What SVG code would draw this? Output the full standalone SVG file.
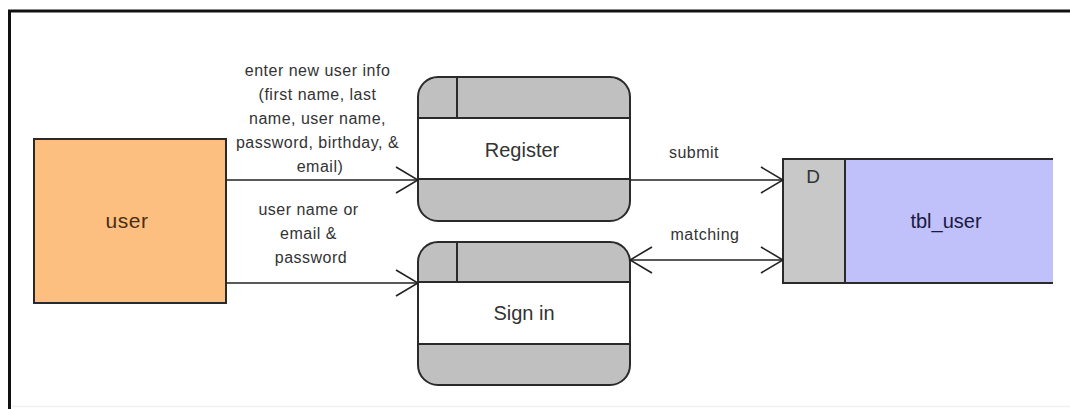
<svg xmlns="http://www.w3.org/2000/svg" width="1070" height="409" viewBox="0 0 1070 409">
  <defs>
    <style>
      .lbl { font-family: "Liberation Sans", Arial, sans-serif; font-size: 16px; letter-spacing: 0.5px; fill: #333; text-anchor: middle; }
      .name { font-family: "Liberation Sans", Arial, sans-serif; font-size: 20px; fill: #333; text-anchor: middle; }
      .proc { stroke: #2a2a2a; stroke-width: 2; }
      .flow { stroke: #222; stroke-width: 1.6; fill: none; }
      .head { stroke: #222; stroke-width: 1.6; fill: none; }
    </style>
    <!-- open chevron arrowhead -->
    <marker id="arrow" viewBox="0 0 24 28" refX="23" refY="14" markerWidth="24" markerHeight="28" markerUnits="userSpaceOnUse" orient="auto-start-reverse">
      <path d="M1,1 L23,14 L1,27" class="head"/>
    </marker>
    <clipPath id="clipRegister"><rect x="418" y="77" width="212" height="144" rx="20" ry="20"/></clipPath>
    <clipPath id="clipSignIn"><rect x="418" y="242" width="212" height="143" rx="20" ry="20"/></clipPath>
  </defs>

  <!-- page background and frame -->
  <rect x="0" y="0" width="1070" height="409" fill="#ffffff"/>
  <line x1="12" y1="406.5" x2="1070" y2="406.5" stroke="#f0f0f0" stroke-width="1.5"/>
  <path d="M9.5,409 L9.5,11 L1070,11" fill="none" stroke="#111" stroke-width="3"/>

  <!-- external entity -->
  <g id="user">
    <rect x="34" y="139" width="192" height="164" fill="#fdbf80" stroke="#2a2a2a" stroke-width="2"/>
    <text x="127" y="228" class="name" style="fill:#4a2e14;font-size:21px;letter-spacing:0.5px">user</text>
  </g>

  <!-- process: Register -->
  <g id="register">
    <g clip-path="url(#clipRegister)">
      <rect x="418" y="77" width="212" height="144" fill="#c0c0c0"/>
      <rect x="418" y="118" width="212" height="61" fill="#ffffff"/>
    </g>
    <rect x="418" y="77" width="212" height="144" rx="20" ry="20" fill="none" class="proc"/>
    <line x1="418" y1="118" x2="630" y2="118" class="proc"/>
    <line x1="418" y1="179" x2="630" y2="179" class="proc"/>
    <line x1="457" y1="77" x2="457" y2="118" class="proc"/>
    <text x="522" y="157" class="name">Register</text>
  </g>

  <!-- process: Sign in -->
  <g id="signin">
    <g clip-path="url(#clipSignIn)">
      <rect x="418" y="242" width="212" height="143" fill="#c0c0c0"/>
      <rect x="418" y="282" width="212" height="62" fill="#ffffff"/>
    </g>
    <rect x="418" y="242" width="212" height="143" rx="20" ry="20" fill="none" class="proc"/>
    <line x1="418" y1="282" x2="630" y2="282" class="proc"/>
    <line x1="418" y1="344" x2="630" y2="344" class="proc"/>
    <line x1="457" y1="242" x2="457" y2="282" class="proc"/>
    <text x="524" y="320" class="name">Sign in</text>
  </g>

  <!-- data store: tbl_user (open on the right) -->
  <g id="tbl_user">
    <rect x="783" y="159" width="62" height="124" fill="#c8c8c8"/>
    <rect x="845" y="159" width="208" height="124" fill="#c0c0fa"/>
    <path d="M1053,159 L783,159 L783,283 L1053,283" fill="none" class="proc"/>
    <line x1="845" y1="159" x2="845" y2="283" class="proc"/>
    <text x="813" y="183" class="name" style="font-size:19px">D</text>
    <text x="946" y="228" class="name" style="fill:#1a1a40">tbl_user</text>
  </g>

  <!-- data flows -->
  <g id="connectors">
    <line x1="226" y1="180" x2="418" y2="180" class="flow" marker-end="url(#arrow)"/>
    <line x1="630" y1="180" x2="783" y2="180" class="flow" marker-end="url(#arrow)"/>
    <line x1="226" y1="283" x2="418" y2="283" class="flow" marker-end="url(#arrow)"/>
    <line x1="630" y1="260" x2="783" y2="260" class="flow" marker-start="url(#arrow)" marker-end="url(#arrow)"/>

    <text class="lbl">
      <tspan x="320" y="76">enter new user info</tspan>
      <tspan x="320" y="100">(first name, last</tspan>
      <tspan x="320" y="124">name, user name,</tspan>
      <tspan x="320" y="148">password, birthday, &amp;</tspan>
      <tspan x="320" y="172">email)</tspan>
    </text>
    <text class="lbl">
      <tspan x="311" y="215">user name or</tspan>
      <tspan x="311" y="239">email &amp;</tspan>
      <tspan x="311" y="263">password</tspan>
    </text>
    <text x="694" y="158" class="lbl">submit</text>
    <text x="705" y="240" class="lbl">matching</text>
  </g>
</svg>
